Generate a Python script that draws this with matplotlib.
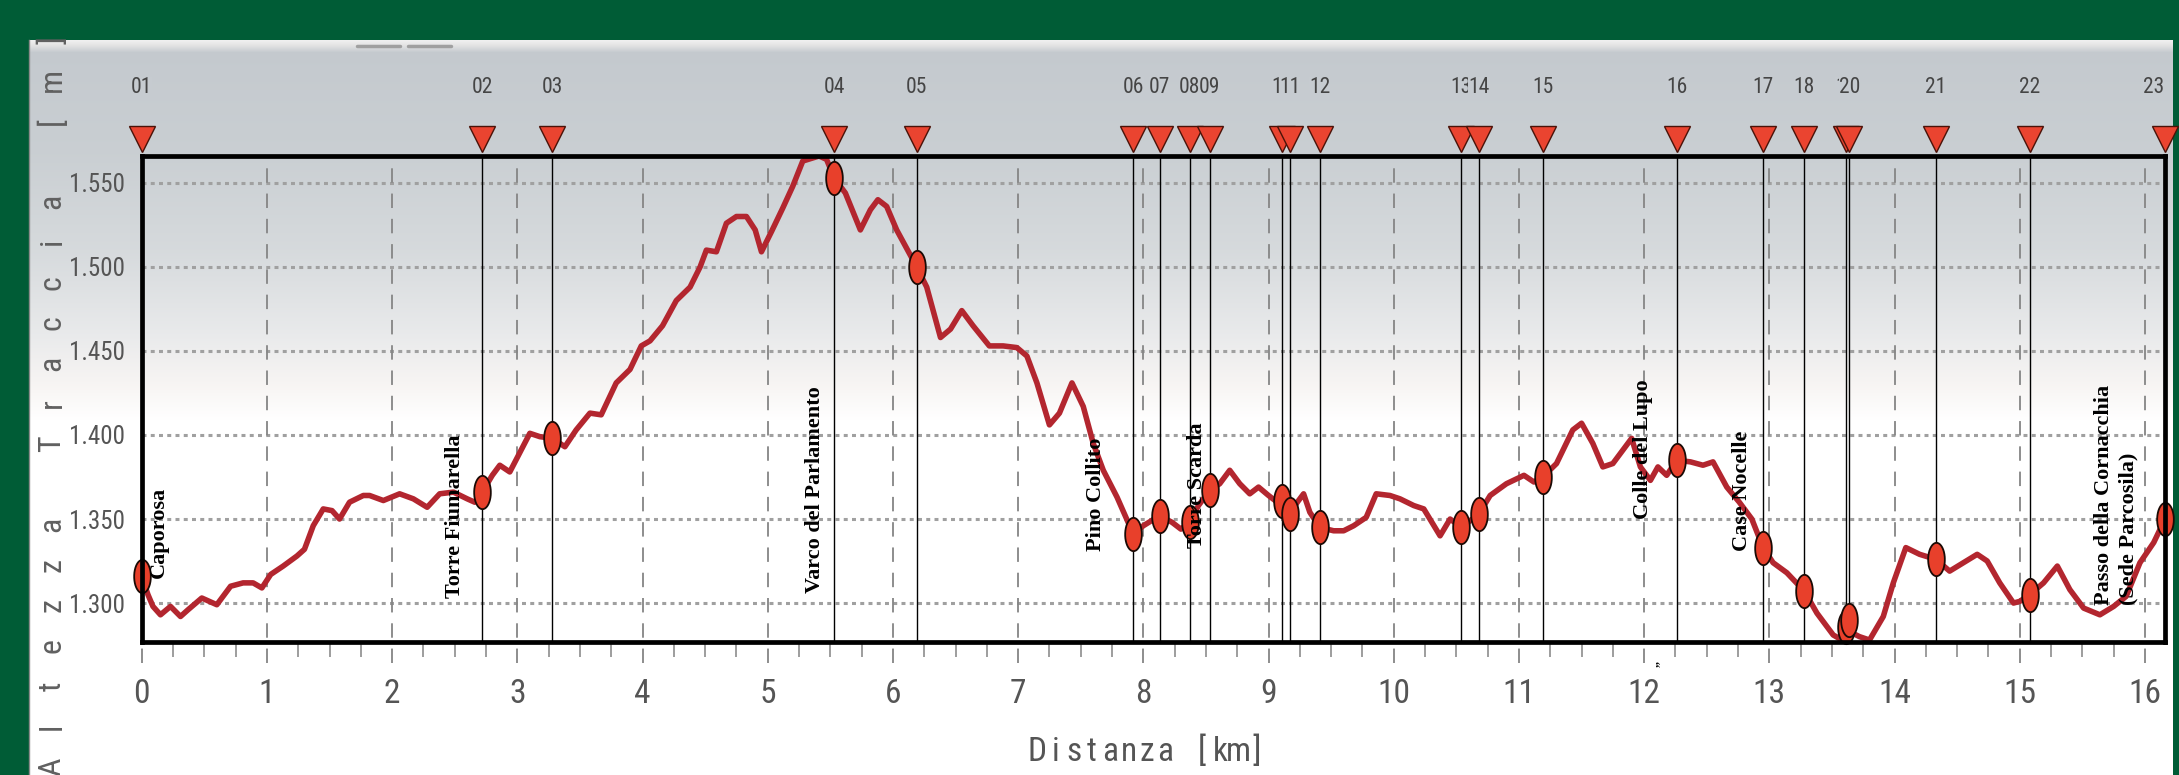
import numpy as np
import matplotlib
matplotlib.use('Agg')
import matplotlib.pyplot as plt
import matplotlib.transforms as mtransforms
from matplotlib import font_manager
from matplotlib.patches import Rectangle
from matplotlib.ticker import MultipleLocator

# elevation profile (km, m)
dist_km = [0.00, 0.05, 0.09, 0.15, 0.23, 0.31, 0.37, 0.48, 0.60, 0.71, 0.81, 0.89, 0.96,
           1.03, 1.13, 1.24, 1.30, 1.37, 1.45, 1.52, 1.58, 1.66, 1.77, 1.82, 1.93,
           2.06, 2.17, 2.28, 2.38, 2.49, 2.60, 2.66, 2.72, 2.80, 2.86, 2.94,
           3.10, 3.18, 3.28, 3.38, 3.47, 3.58, 3.67, 3.79, 3.90, 3.99,
           4.06, 4.16, 4.27, 4.38, 4.46, 4.51, 4.59, 4.67, 4.75, 4.83, 4.90, 4.95,
           5.03, 5.12, 5.20, 5.28, 5.41, 5.47, 5.53, 5.62, 5.74, 5.82, 5.88, 5.95,
           6.03, 6.19, 6.27, 6.38, 6.46, 6.55, 6.64, 6.77, 6.88, 6.99,
           7.07, 7.15, 7.25, 7.33, 7.43, 7.52, 7.60, 7.68, 7.79, 7.92,
           8.00, 8.13, 8.23, 8.30, 8.37, 8.44, 8.53, 8.61, 8.69, 8.77, 8.85, 8.92,
           9.00, 9.07, 9.11, 9.17, 9.23, 9.28, 9.33, 9.41, 9.52, 9.60, 9.68, 9.78, 9.86, 9.97,
           10.05, 10.16, 10.24, 10.37, 10.45, 10.54, 10.68, 10.77, 10.90,
           11.04, 11.12, 11.19, 11.30, 11.43, 11.50, 11.59, 11.67, 11.75, 11.83, 11.90, 11.97,
           12.05, 12.11, 12.18, 12.26, 12.37, 12.47, 12.55, 12.66, 12.76, 12.86, 12.95,
           13.03, 13.14, 13.28, 13.38, 13.51, 13.58, 13.64, 13.72, 13.80, 13.91, 13.99,
           14.09, 14.20, 14.33, 14.44, 14.55, 14.66, 14.74, 14.84, 14.95,
           15.00, 15.08, 15.19, 15.30, 15.40, 15.51, 15.64, 15.75, 15.85, 15.96,
           16.07, 16.16]
elev_m = [1316, 1305, 1298, 1293, 1298, 1292, 1296, 1303, 1299, 1310, 1312, 1312, 1309,
          1317, 1322, 1328, 1332, 1346, 1356, 1355, 1350, 1360, 1364, 1364, 1361,
          1365, 1362, 1357, 1365, 1366, 1362, 1360, 1366, 1376, 1382, 1378,
          1401, 1399, 1398, 1393, 1403, 1413, 1412, 1431, 1439, 1453,
          1456, 1465, 1480, 1488, 1500, 1510, 1509, 1526, 1530, 1530, 1522, 1509,
          1521, 1535, 1548, 1563, 1566, 1564, 1553, 1544, 1522, 1534, 1540, 1536,
          1522, 1500, 1488, 1458, 1463, 1474, 1465, 1453, 1453, 1452,
          1447, 1431, 1406, 1413, 1431, 1417, 1395, 1379, 1363, 1341,
          1346, 1352, 1348, 1344, 1348, 1358, 1367, 1371, 1379, 1371, 1365, 1369,
          1364, 1360, 1361, 1353, 1360, 1365, 1354, 1345, 1343, 1343, 1346, 1351, 1365, 1364,
          1362, 1358, 1356, 1340, 1350, 1345, 1353, 1364, 1371,
          1376, 1372, 1375, 1383, 1403, 1407, 1395, 1381, 1383, 1391, 1398, 1381,
          1373, 1381, 1376, 1385, 1384, 1382, 1384, 1369, 1360, 1350, 1333,
          1324, 1318, 1307, 1294, 1281, 1278, 1283, 1280, 1278, 1292, 1312,
          1333, 1329, 1326, 1319, 1324, 1329, 1325, 1312, 1300,
          1301, 1305, 1312, 1322, 1308, 1297, 1293, 1298, 1304, 1324,
          1336, 1350]

# waypoints
wp_labels = ['01', '02', '03', '04', '05', '06', '07', '08', '09', '10', '11', '12',
             '13', '14', '15', '16', '17', '18', '19', '20', '21', '22', '23']
wp_km = [0.00, 2.72, 3.28, 5.53, 6.19, 7.92, 8.13, 8.37, 8.53, 9.11, 9.17, 9.41,
         10.54, 10.68, 11.19, 12.26, 12.95, 13.28, 13.61, 13.64, 14.33, 15.08, 16.16]
wp_elev = [1316, 1366, 1398, 1553, 1500, 1341, 1352, 1348, 1367, 1361, 1353, 1345,
           1345, 1353, 1375, 1385, 1333, 1307, 1286, 1290, 1326, 1305, 1350]

place_names = ['Caporosa', 'Torre Fiumarella', 'Varco del Parlamento', 'Pino Collito',
               'Torre Scarda', 'Colle del Lupo', 'Case Nocelle',
               'Passo della Cornacchia\n(Sede Parcosila)']
place_pos = [(0.14, 1315), (2.50, 1303), (5.38, 1306), (7.62, 1331),
             (8.43, 1333), (11.99, 1350), (12.78, 1331), (15.77, 1299)]

y_ticks = [1300, 1350, 1400, 1450, 1500, 1550]
y_tick_labels = ['1.300', '1.350', '1.400', '1.450', '1.500', '1.550']
x_ticks = list(range(0, 17))
x_label = 'Distanza [km]'
y_label = 'Altezza Traccia [m]'

# narrow sans for the gray software texts
_names = {f.name for f in font_manager.fontManager.ttflist}
NARROW = next((n for n in ['Liberation Sans Narrow', 'Roboto Condensed', 'Open Sans Condensed']
               if n in _names), 'DejaVu Sans')
SERIF = 'Liberation Serif'
GRAY_TXT = '#555555'

W, H = 2179, 775
fig = plt.figure(figsize=(W / 100, H / 100), dpi=100, facecolor='#005c36')

# background panel, drawn in pixel coordinates
bg = fig.add_axes([0, 0, 1, 1])
rows = np.arange(40, H)
anc_y = [40, 45, 52, 150, 250, 330, 385, 420, H]
anc_c = np.array([[0.94, 0.94, 0.94], [0.89, 0.89, 0.89], [0.77, 0.79, 0.81],
                  [0.79, 0.81, 0.825], [0.84, 0.855, 0.865], [0.91, 0.915, 0.92],
                  [0.97, 0.96, 0.955], [1, 1, 1], [1, 1, 1]])
grad = np.stack([np.interp(rows, anc_y, anc_c[:, k]) for k in range(3)], axis=1)
bg.imshow(grad[:, None, :], extent=(29, 2173, H, 40), aspect='auto', interpolation='bilinear')
bg.set_xlim(0, W)
bg.set_ylim(H, 0)
bg.axis('off')
bg.plot([29, 29], [40, H], color='#8a8a8a', lw=1)
bg.plot([357, 400], [46, 46], color='#a0a0a0', lw=2.5, solid_capstyle='round')
bg.plot([408, 451], [46, 46], color='#a0a0a0', lw=2.5, solid_capstyle='round')
band_color = tuple(np.interp(84, anc_y, anc_c[:, k]) for k in range(3))
panel = Rectangle((29, 40), 2144, H - 40, transform=bg.transData)

# axis titles, letter spaced like the original software
for i, ch in enumerate(y_label):
    if ch == ' ':
        continue
    t = bg.text(52, 767 - 40.4 * i, ch, rotation=90, ha='center', va='center',
                fontsize=23, family=NARROW, fontstretch='condensed', color='#606060')
    t.set_clip_path(panel)
for i, ch in enumerate(x_label):
    if ch == ' ':
        continue
    bg.text(1037 + 18.3 * i, 752, ch, ha='center', va='center', fontsize=24,
            family=NARROW, fontstretch='condensed', color=GRAY_TXT)
bg.text(1655, 664, '\u201e', rotation=90, ha='center', va='center', fontsize=9,
        family=SERIF, fontweight='bold', color='black')

# main plot
X0, X1 = 141.7, 2165
Y_TOP, Y_BOT = 156, 641.7
ax = fig.add_axes([X0 / W, 1 - Y_BOT / H, (X1 - X0) / W, (Y_BOT - Y_TOP) / H])
ax.set_facecolor('none')
ax.set_xlim(0, 16.16)
ax.set_ylim(1277, 1566)

for y in y_ticks:
    ax.axhline(y, color='#a0a0a0', lw=2.2, linestyle=(0, (1.3, 1.4)), zorder=1)
for x in x_ticks:
    ax.axvline(x, ymin=-0.044, ymax=1, color='#858585', lw=1.3, linestyle=(0, (8, 6)),
               clip_on=False, zorder=1)
for x in wp_km:
    ax.axvline(x, color='black', lw=1.0, zorder=2)

ax.plot(dist_km, elev_m, color='#b3262f', lw=4.0, zorder=3)

t = np.linspace(0, 2 * np.pi, 40)
ellipse = np.column_stack([0.5 * np.cos(t), np.sin(t)])
ax.plot(wp_km, wp_elev, linestyle='none', marker=ellipse, markersize=24,
        markerfacecolor='#e8402b', markeredgecolor='#1a0a05', markeredgewidth=1.3,
        zorder=4, clip_on=False)

# triangles and numbers above the frame (numbers kept inside the panel)
trans = mtransforms.blended_transform_factory(ax.transData, ax.transAxes)
ax.plot(wp_km, [1.034] * len(wp_km), transform=trans, linestyle='none', marker='v',
        markersize=19, markerfacecolor='#ea4430', markeredgecolor='#4a1208',
        markeredgewidth=1.0, clip_on=False, zorder=5)
for k, lbl in zip(wp_km, wp_labels):
    ax.text(min(max(k, -0.04), 16.07), 1.142, lbl, transform=trans, ha='center',
            va='center', fontsize=15.5, family=NARROW, fontstretch='condensed',
            color='#454545', zorder=6,
            bbox=dict(boxstyle='square,pad=0.0', fc=band_color, ec='none'))

# place names
for name, (px, py) in zip(place_names, place_pos):
    ax.text(px, py, name, rotation=90, ha='center', va='bottom', fontsize=16,
            family=SERIF, fontweight='bold', color='black', multialignment='left',
            linespacing=1.3, zorder=7)

# ticks
ax.set_yticks(y_ticks)
ax.set_yticklabels(y_tick_labels)
ax.set_xticks(x_ticks)
ax.set_xticklabels([str(v) for v in x_ticks])
ax.xaxis.set_minor_locator(MultipleLocator(0.25))
ax.tick_params(axis='y', length=0, pad=12, labelsize=18, labelcolor=GRAY_TXT)
ax.tick_params(axis='x', which='major', length=0, pad=26, labelsize=24, labelcolor=GRAY_TXT)
ax.tick_params(axis='x', which='minor', length=11, width=1.2, color='#8c8c8c', direction='out')
for lab in ax.get_xticklabels() + ax.get_yticklabels():
    lab.set_family(NARROW)
    lab.set_stretch('condensed')

for s in ax.spines.values():
    s.set_linewidth(3.4)
    s.set_color('black')
    s.set_zorder(6)

fig.savefig('out.png', dpi=100, facecolor=fig.get_facecolor())
